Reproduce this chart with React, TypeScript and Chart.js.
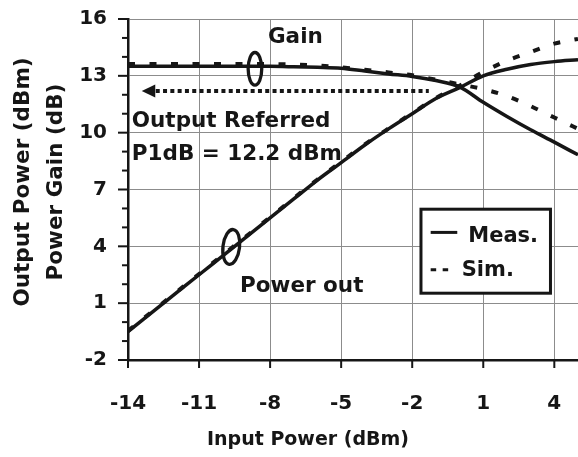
import React, { useEffect, useRef } from 'react';
import { Chart, registerables } from 'chart.js';

Chart.register(...registerables);

// ---------- data ----------
const inputPower = [-14, -13, -12, -11, -10, -9, -8, -7, -6, -5, -4, -3, -2, -1, 0, 1, 2, 3, 4, 5];
const gainMeas = [13.5, 13.5, 13.5, 13.5, 13.5, 13.5, 13.5, 13.48, 13.45, 13.4, 13.25, 13.1, 12.97, 12.75, 12.42, 11.6, 10.85, 10.15, 9.5, 8.83];
const gainSim = [13.62, 13.62, 13.62, 13.62, 13.62, 13.62, 13.62, 13.6, 13.55, 13.45, 13.32, 13.18, 13.03, 12.8, 12.55, 12.3, 11.93, 11.4, 10.8, 10.2];
const poutMeas = [-0.5, 0.5, 1.5, 2.5, 3.5, 4.5, 5.5, 6.5, 7.5, 8.42, 9.35, 10.2, 11.0, 11.8, 12.38, 13.0, 13.35, 13.6, 13.75, 13.85];
const poutSim = [-0.46, 0.54, 1.54, 2.54, 3.54, 4.54, 5.54, 6.54, 7.53, 8.46, 9.38, 10.22, 11.03, 11.83, 12.48, 13.2, 13.8, 14.25, 14.7, 14.95];

const xTicks = [-14, -11, -8, -5, -2, 1, 4];
const yTicks = [-2, 1, 4, 7, 10, 13, 16];
const xRange = [-14, 5];
const yRange = [-2, 16];

const xTitle = 'Input Power (dBm)';
const yTitleLines = ['Output Power (dBm)', 'Power Gain (dB)'];
const legendLabels = ['Meas.', 'Sim.'];

// annotations (data coordinates)
const p1dbLevel = 12.2;
const arrowFromTo = [-1.3, -13.42];
const annotationTexts = [
  { text: 'Gain', x: -8.09, y: 14.75 },
  { text: 'Output Referred', x: -13.84, y: 10.3 },
  { text: 'P1dB = 12.2 dBm', x: -13.84, y: 8.57 },
  { text: 'Power out', x: -9.27, y: 1.57 },
];
const ellipseMarks = [
  { x: -8.64, y: 13.37, rx: 6.8, ry: 16.3, rot: 0 },
  { x: -9.64, y: 3.97, rx: 8.3, ry: 17.5, rot: 0.12 },
];
const legendAnchor = { x: -1.63, y: 5.96 };

const FONT = '"DejaVu Sans", "Liberation Sans", sans-serif';
const INK = '#161616';

const toPts = (ys: number[]) => inputPower.map((x, i) => ({ x, y: ys[i] }));

const overlay = {
  id: 'overlay',
  afterDraw(chart: any) {
    const { ctx, chartArea: ca } = chart;
    const xs = chart.scales.x;
    const ys = chart.scales.y;
    const line = (x1: number, y1: number, x2: number, y2: number) => {
      ctx.beginPath();
      ctx.moveTo(x1, y1);
      ctx.lineTo(x2, y2);
      ctx.stroke();
    };
    ctx.save();
    // tick marks
    ctx.strokeStyle = INK;
    ctx.lineWidth = 2;
    for (let v = yRange[0]; v <= yRange[1]; v++) {
      const py = ys.getPixelForValue(v);
      const major = yTicks.includes(v);
      line(ca.left - (major ? 10 : 6), py, ca.left, py);
    }
    for (const v of xTicks) {
      const px = xs.getPixelForValue(v);
      line(px, ca.bottom, px, ca.bottom + 8);
    }

    // axis titles
    ctx.fillStyle = INK;
    ctx.textAlign = 'center';
    ctx.textBaseline = 'middle';
    ctx.font = `bold 19px ${FONT}`;
    ctx.fillText(xTitle, 308, 440);
    ctx.font = `bold 21.5px ${FONT}`;
    const cy = 182;
    yTitleLines.forEach((t, i) => {
      ctx.save();
      ctx.translate(23.5 + i * 32.5, cy);
      ctx.rotate(-Math.PI / 2);
      ctx.fillText(t, 0, 0);
      ctx.restore();
    });

    // annotation texts
    ctx.font = `bold 21.5px ${FONT}`;
    ctx.textAlign = 'left';
    ctx.textBaseline = 'alphabetic';
    for (const a of annotationTexts) {
      ctx.fillText(a.text, xs.getPixelForValue(a.x), ys.getPixelForValue(a.y));
    }

    // dotted arrow
    const ay = ys.getPixelForValue(p1dbLevel);
    const ax1 = xs.getPixelForValue(arrowFromTo[0]);
    const tip = xs.getPixelForValue(arrowFromTo[1]);
    ctx.beginPath();
    ctx.moveTo(tip, ay);
    ctx.lineTo(tip + 13.5, ay - 6.5);
    ctx.lineTo(tip + 13.5, ay + 6.5);
    ctx.closePath();
    ctx.fill();
    ctx.lineWidth = 4;
    ctx.lineCap = 'butt';
    ctx.setLineDash([4, 3.3]);
    line(tip + 14, ay, ax1, ay);
    ctx.setLineDash([]);

    // ellipses
    ctx.lineWidth = 3.3;
    for (const e of ellipseMarks) {
      ctx.beginPath();
      ctx.ellipse(xs.getPixelForValue(e.x), ys.getPixelForValue(e.y), e.rx, e.ry, e.rot, 0, Math.PI * 2);
      ctx.stroke();
    }

    // legend
    const lx = xs.getPixelForValue(legendAnchor.x);
    const ly = ys.getPixelForValue(legendAnchor.y);
    ctx.fillStyle = '#ffffff';
    ctx.fillRect(lx, ly, 129.5, 84);
    ctx.lineWidth = 3;
    ctx.strokeStyle = INK;
    ctx.strokeRect(lx, ly, 129.5, 84);
    ctx.lineWidth = 3;
    line(lx + 9.7, ly + 23.2, lx + 36.3, ly + 23.2);
    ctx.setLineDash([5.5, 6.5]);
    line(lx + 9.7, ly + 60.5, lx + 28.5, ly + 60.5);
    ctx.setLineDash([]);
    ctx.fillStyle = INK;
    ctx.font = `bold 21px ${FONT}`;
    ctx.fillText(legendLabels[0], lx + 47.3, ly + 33.2);
    ctx.fillText(legendLabels[1], lx + 40.7, ly + 66.5);

    ctx.restore();
  },
};

export default function App() {
  const ref = useRef<HTMLCanvasElement>(null);
  useEffect(() => {
    document.body.style.margin = '0';
    const solid = { borderColor: INK, borderWidth: 3.5, pointRadius: 0, fill: false, cubicInterpolationMode: 'monotone' as const };
    const dashed = { borderColor: INK, borderWidth: 4, pointRadius: 0, fill: false, borderDash: [7, 14.5], borderCapStyle: 'butt' as const, cubicInterpolationMode: 'monotone' as const };
    const chart = new Chart(ref.current!, {
      type: 'line',
      data: {
        datasets: [
          { label: 'Gain Sim.', data: toPts(gainSim), ...dashed },
          { label: 'Pout Sim.', data: toPts(poutSim), ...dashed },
          { label: 'Gain Meas.', data: toPts(gainMeas), ...solid },
          { label: 'Pout Meas.', data: toPts(poutMeas), ...solid },
        ],
      },
      options: {
        animation: false,
        responsive: false,
        maintainAspectRatio: false,
        layout: { padding: { top: 19, right: 0, left: 0, bottom: 0 } },
        plugins: { legend: { display: false }, tooltip: { enabled: false } },
        scales: {
          x: {
            type: 'linear',
            min: xRange[0],
            max: xRange[1],
            afterBuildTicks: (s: any) => { s.ticks = xTicks.map((v) => ({ value: v })); },
            afterFit: (s: any) => { s.height = 97; s.paddingLeft = 0; s.paddingRight = 0; },
            grid: { color: '#8c8c8c', lineWidth: 1, drawTicks: false },
            border: { color: INK, width: 2.5 },
            ticks: { font: { family: FONT, size: 20, weight: 'bold' }, color: INK, padding: 32, maxRotation: 0, autoSkip: false },
          },
          y: {
            type: 'linear',
            min: yRange[0],
            max: yRange[1],
            afterBuildTicks: (s: any) => { s.ticks = yTicks.map((v) => ({ value: v })); },
            afterFit: (s: any) => { s.width = 128; s.paddingTop = 0; s.paddingBottom = 0; },
            grid: { color: '#8c8c8c', lineWidth: 1, drawTicks: false },
            border: { color: INK, width: 2.5 },
            ticks: { font: { family: FONT, size: 20, weight: 'bold' }, color: INK, padding: 21 },
          },
        },
      },
      plugins: [overlay],
    } as any);
    return () => chart.destroy();
  }, []);
  return (
    <div style={{ width: 578, height: 457 }}>
      <canvas ref={ref} width={578} height={457} style={{ display: 'block', width: 578, height: 457 }} />
    </div>
  );
}
